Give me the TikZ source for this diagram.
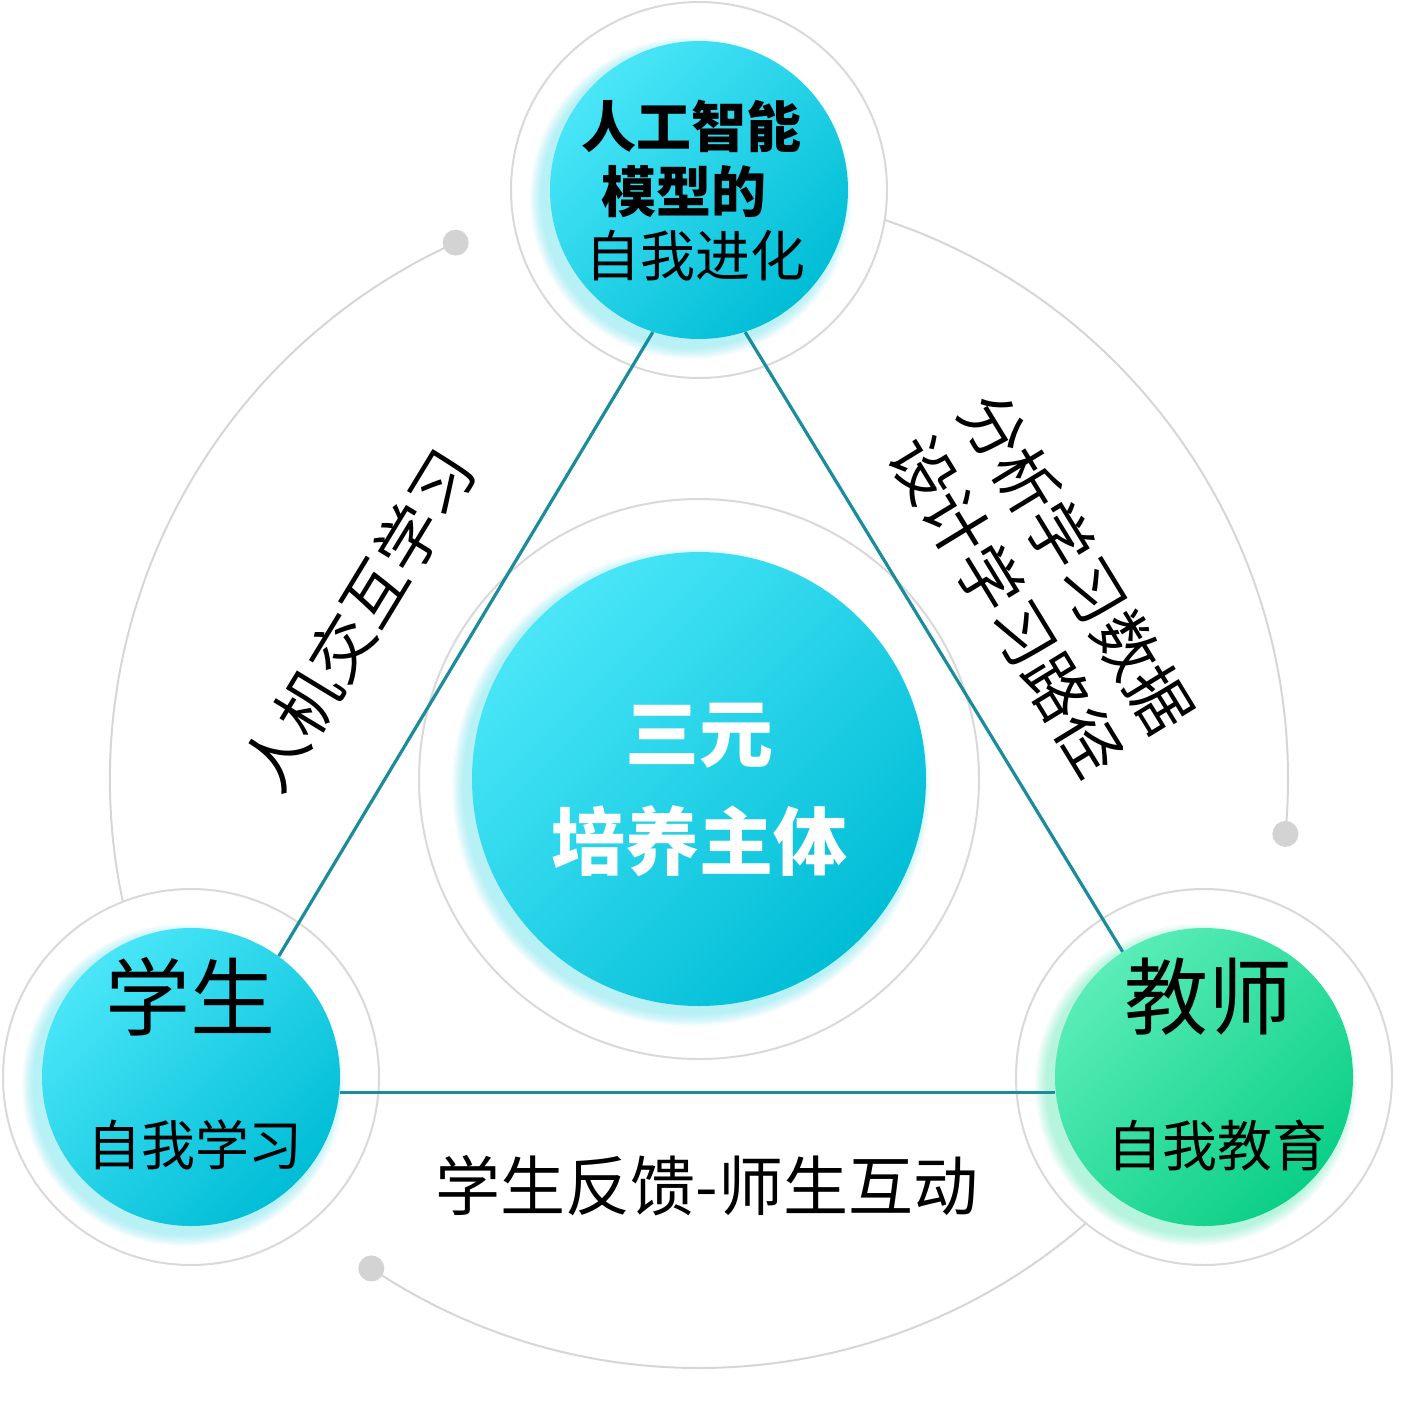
\documentclass[tikz,border=0pt]{standalone}
\usepackage{fontspec}
\setmainfont{Noto Sans CJK SC}
\definecolor{ringgray}{HTML}{D9D9D9}
\definecolor{arcgray}{HTML}{D6D6D6}
\definecolor{dotgray}{HTML}{D3D3D3}
\definecolor{tealline}{HTML}{1A8C9C}
\definecolor{cyanA}{HTML}{4AE6F8}
\definecolor{cyanB}{HTML}{00BDD6}
\definecolor{greenA}{HTML}{5AEDB8}
\definecolor{greenB}{HTML}{0BCF86}
\definecolor{glowc}{HTML}{3FE0F2}
\definecolor{glowg}{HTML}{40E6B0}
\begin{document}
\begin{tikzpicture}[x=0.5pt,y=0.5pt,
  ringnode/.style={circle, draw=ringgray, line width=1pt, fill=white, minimum size=#1, inner sep=0pt},
  ballnode/.style={circle, minimum size=#1, inner sep=0pt, draw=none},
  cyanball/.style={ballnode=#1, top color=cyanA, bottom color=cyanB, shading angle=45},
  greenball/.style={ballnode=#1, top color=greenA, bottom color=greenB, shading angle=45},
  arcline/.style={draw=arcgray, line width=1pt},
  dotnode/.style={circle, fill=dotgray, minimum size=13pt, inner sep=0pt},
  triline/.style={draw=tealline, line width=1.6pt},
  txt/.style={inner sep=0pt, text=black}
]
\useasboundingbox (0,0) rectangle (1402,-1404);
\coordinate (cT) at (699,-190);
\coordinate (cL) at (191,-1077);
\coordinate (cR) at (1204,-1077);
\coordinate (cC) at (699,-779);

% big gray arcs with end dots
\draw[arcline] (cC) ++(114.4:589) arc[start angle=114.4, end angle=200, radius=589];
\draw[arcline] (cC) ++(78:589) arc[start angle=78, end angle=-5.35, radius=589];
\draw[arcline] (cC) ++(-40:589) arc[start angle=-40, end angle=-123.8, radius=589];
\path (cC) ++(114.4:589) node[dotnode] (d1) {};
\path (cC) ++(-5.35:589) node[dotnode] (d2) {};
\path (cC) ++(-123.8:589) node[dotnode] (d3) {};

% rings
\node[ringnode=188pt] (rT) at (cT) {};
\node[ringnode=188pt] (rL) at (cL) {};
\node[ringnode=188pt] (rR) at (cR) {};
\node[ringnode=280pt] (rC) at (cC) {};

% glows
\foreach \k in {1,...,10}{
  \fill[glowc, opacity=0.045] (cT) ++(-8,-8) circle[radius=149+\k*1.2];
  \fill[glowc, opacity=0.045] (cL) ++(-8,-8) circle[radius=149+\k*1.2];
  \fill[glowg, opacity=0.045] (cR) ++(-8,-8) circle[radius=149+\k*1.2];
  \fill[glowc, opacity=0.045] (cC) ++(-8,-8) circle[radius=227+\k*1.2];
}

% filled circles
\node[cyanball=149pt] (T) at (cT) {};
\node[cyanball=149pt] (L) at (cL) {};
\node[greenball=149pt] (R) at (cR) {};
\node[cyanball=227pt] (C) at (cC) {};

% triangle connectors
\draw[triline] (T.252.5) -- (L.54.5);
\draw[triline] (T.288.7) -- (R.123);
\draw[triline] (L.-6.2) -- (R.186.1);

% texts
\node[txt, font=\fontsize{27.5pt}{32pt}\selectfont\bfseries] (t1) at (691.5,-126) {人工智能};
\node[txt, font=\fontsize{27.5pt}{32pt}\selectfont\bfseries] (t2) at (684,-191.5) {模型的};
\node[txt, font=\fontsize{27.5pt}{32pt}\selectfont] (t3) at (695,-255.5) {自我进化};

\node[txt, text=white, font=\fontsize{37pt}{44pt}\selectfont\bfseries] (c1) at (699,-736) {三元};
\node[txt, text=white, font=\fontsize{37pt}{44pt}\selectfont\bfseries] (c2) at (699,-841) {培养主体};

\node[txt, font=\fontsize{42.5pt}{50pt}\selectfont] (l1) at (190,-997) {学生};
\node[txt, font=\fontsize{27pt}{32pt}\selectfont] (l2) at (195,-1145) {自我学习};

\node[txt, font=\fontsize{42pt}{50pt}\selectfont] (r1) at (1208,-997) {教师};
\node[txt, font=\fontsize{27.5pt}{32pt}\selectfont] (r2) at (1217,-1145) {自我教育};

\node[txt, font=\fontsize{32.5pt}{38pt}\selectfont] (b1) at (707,-1186) {学生反馈-师生互动};

\node[txt, rotate=58.7, font=\fontsize{32pt}{38pt}\selectfont] (ld) at (358,-620) {人机交互学习};
\node[txt, rotate=-58.6, align=left, font=\fontsize{32pt}{41pt}\selectfont] (rd) at (1042,-584) {分析学习数据\\设计学习路径};
\end{tikzpicture}
\end{document}
